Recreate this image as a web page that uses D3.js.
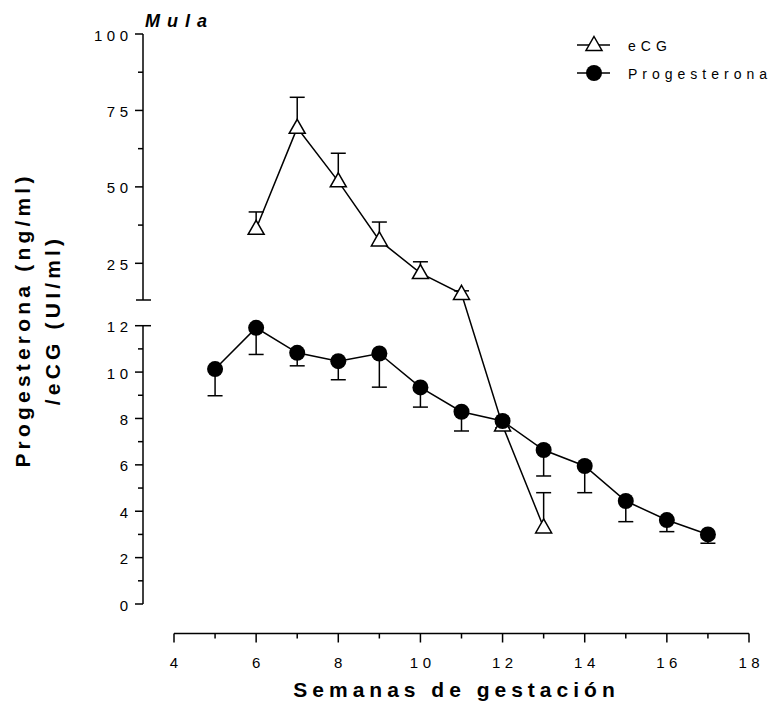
<!DOCTYPE html>
<html><head><meta charset="utf-8">
<script src="https://cdn.jsdelivr.net/npm/d3@7"></script>
<style>
body{margin:0;background:#fff;}
svg{display:block;font-family:"Liberation Sans",Arial,sans-serif;}
</style></head>
<body><svg id="c" width="774" height="721"></svg>
<script>
// ---- data ----
const ecgWeeks = [6, 7, 8, 9, 10, 11, 12, 13];
const ecgValues = [36.3, 69.3, 51.8, 32.5, 21.8, 15.0, 7.7, 3.3];
const ecgErrors = [5.5, 10.0, 9.2, 6.0, 3.7, 1.0, 0.3, 1.5];
const progWeeks = [5, 6, 7, 8, 9, 10, 11, 12, 13, 14, 15, 16, 17];
const progValues = [10.13, 11.91, 10.83, 10.47, 10.8, 9.34, 8.29, 7.89, 6.64, 5.95, 4.44, 3.62, 3.0];
const progErrors = [1.15, 1.15, 0.56, 0.8, 1.45, 0.85, 0.83, 0.3, 1.12, 1.15, 0.89, 0.5, 0.38];
const xTicks = [4, 6, 8, 10, 12, 14, 16, 18];
const xMinor = [5, 7, 9, 11, 13, 15, 17];
const yLowTicks = [0, 2, 4, 6, 8, 10, 12];
const yLowMinor = [1, 3, 5, 7, 9, 11];
const yHighTicks = [25, 50, 75, 100];
const yHighMinor = [37.5, 62.5, 87.5];
const seriesNames = ["eCG", "Progesterona"];

const svg = d3.select("#c");
const x = d3.scaleLinear().domain([4, 18]).range([174, 749]);
const yLow = d3.scaleLinear().domain([0, 12]).range([604, 325.7]);
const yHigh = d3.scaleLinear().domain([13, 100]).range([300, 34]);
const y = v => v >= 13 ? yHigh(v) : yLow(v);
const axX = 143, axY = 633.5;
const LS = 4.5;

// ---- y axis (broken) ----
const g = svg.append("g").attr("stroke", "#000").attr("stroke-width", 1.5).attr("fill", "none");
g.append("line").attr("x1", axX).attr("x2", axX).attr("y1", yHigh(100)).attr("y2", yHigh(13));
g.append("line").attr("x1", axX).attr("x2", axX).attr("y1", yLow(12)).attr("y2", yLow(0));
g.append("line").attr("x1", axX - 7).attr("x2", axX + 8).attr("y1", yHigh(13)).attr("y2", yHigh(13));
g.append("line").attr("x1", axX).attr("x2", axX + 8).attr("y1", yLow(12)).attr("y2", yLow(12));
yHighTicks.forEach(t => g.append("line").attr("x1", axX - 8).attr("x2", axX).attr("y1", yHigh(t)).attr("y2", yHigh(t)));
yHighMinor.forEach(t => g.append("line").attr("x1", axX - 5).attr("x2", axX).attr("y1", yHigh(t)).attr("y2", yHigh(t)));
yLowTicks.forEach(t => g.append("line").attr("x1", axX - 8).attr("x2", axX).attr("y1", yLow(t)).attr("y2", yLow(t)));
yLowMinor.forEach(t => g.append("line").attr("x1", axX - 5).attr("x2", axX).attr("y1", yLow(t)).attr("y2", yLow(t)));

const lab = svg.append("g").attr("font-size", 15).attr("fill", "#000").style("letter-spacing", LS + "px");
yHighTicks.forEach(t => lab.append("text").attr("x", axX - 15 + LS).attr("y", yHigh(t) + 6.5).attr("text-anchor", "end").text(t));
yLowTicks.forEach(t => lab.append("text").attr("x", axX - 15 + LS).attr("y", yLow(t) + 6.5).attr("text-anchor", "end").text(t));

// ---- x axis ----
g.append("line").attr("x1", x(4)).attr("x2", x(18)).attr("y1", axY).attr("y2", axY);
xTicks.forEach(t => g.append("line").attr("x1", x(t)).attr("x2", x(t)).attr("y1", axY).attr("y2", axY + 9));
xMinor.forEach(t => g.append("line").attr("x1", x(t)).attr("x2", x(t)).attr("y1", axY).attr("y2", axY + 5));
xTicks.forEach(t => lab.append("text").attr("x", x(t) + LS / 2).attr("y", 668).attr("text-anchor", "middle").text(t));

// ---- titles ----
svg.append("text").attr("x", 145).attr("y", 27).attr("font-size", 18).attr("font-weight", "bold")
  .attr("font-style", "italic").style("letter-spacing", "7px").text("Mula");
svg.append("text").attr("x", 454 + 2.5).attr("y", 697).attr("text-anchor", "middle").attr("font-size", 21)
  .attr("font-weight", "bold").style("letter-spacing", "5px").text("Semanas de gestación");
const yt = svg.append("g").attr("transform", "translate(0,320) rotate(-90)")
  .attr("font-size", 21).attr("font-weight", "bold").attr("text-anchor", "middle").style("letter-spacing", "4.2px");
yt.append("text").attr("x", 0).attr("y", 30).text("Progesterona (ng/ml)");
yt.append("text").attr("x", 0).attr("y", 60).text("/eCG (UI/ml)");

// ---- series ----
const ecg = ecgWeeks.map((w, i) => ({w, v: ecgValues[i], e: ecgErrors[i]}));
const prog = progWeeks.map((w, i) => ({w, v: progValues[i], e: progErrors[i]}));
const line = d3.line().x(d => x(d.w)).y(d => y(d.v));
const plot = svg.append("g").attr("stroke", "#000").attr("stroke-width", 1.5);

// error bars
const cap = 7.5;
ecg.forEach(d => {
  plot.append("line").attr("x1", x(d.w)).attr("x2", x(d.w)).attr("y1", y(d.v)).attr("y2", y(d.v + d.e));
  plot.append("line").attr("x1", x(d.w) - cap).attr("x2", x(d.w) + cap).attr("y1", y(d.v + d.e)).attr("y2", y(d.v + d.e));
});
prog.forEach(d => {
  plot.append("line").attr("x1", x(d.w)).attr("x2", x(d.w)).attr("y1", y(d.v)).attr("y2", y(d.v - d.e));
  plot.append("line").attr("x1", x(d.w) - cap).attr("x2", x(d.w) + cap).attr("y1", y(d.v - d.e)).attr("y2", y(d.v - d.e));
});
plot.append("path").datum(ecg).attr("fill", "none").attr("d", line);
plot.append("path").datum(prog).attr("fill", "none").attr("d", line);

const triPath = "M0,-8.5L8,5.5L-8,5.5Z";
plot.selectAll(".tri").data(ecg).join("path").attr("class", "tri")
  .attr("d", triPath).attr("fill", "#fff")
  .attr("transform", d => `translate(${x(d.w)},${y(d.v)})`);
plot.selectAll(".dot").data(prog).join("circle").attr("class", "dot")
  .attr("cx", d => x(d.w)).attr("cy", d => y(d.v)).attr("r", 8).attr("fill", "#000").attr("stroke", "none");

// ---- legend ----
const leg = svg.append("g");
[0, 1].forEach(i => {
  const ly = i === 0 ? 45 : 73;
  leg.append("line").attr("x1", 577).attr("x2", 610).attr("y1", ly).attr("y2", ly).attr("stroke", "#000").attr("stroke-width", 1.5);
  if (i === 0) leg.append("path").attr("d", triPath).attr("fill", "#fff").attr("stroke", "#000").attr("stroke-width", 1.5)
      .attr("transform", `translate(594,${ly})`);
  else leg.append("circle").attr("cx", 594).attr("cy", ly).attr("r", 8).attr("fill", "#000");
  leg.append("text").attr("x", 628).attr("y", ly + 5.5).attr("font-size", 14).style("letter-spacing", "5px").text(seriesNames[i]);
});
</script></body></html>
